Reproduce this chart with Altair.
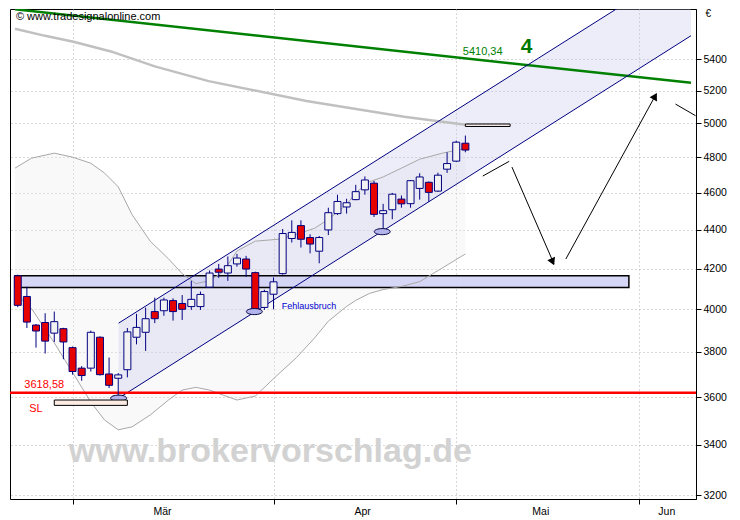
import altair as alt
import pandas as pd

# ---------------- data ----------------
# trading-day index: 0 = first trading day of March
day = list(range(-6, 44))
open_ = [4164, 4062, 3925, 3937, 3887, 3908, 3820, 3727, 3727, 3868,
         3701, 3682, 3720, 3868, 3891, 3989, 3993, 4042, 4028, 4013,
         4013, 4108, 4198, 4178, 4224, 4249, 4180, 4009, 4073, 4175,
         4355, 4423, 4360, 4289, 4400, 4487, 4523, 4563, 4617, 4654,
         4487, 4508, 4566, 4541, 4625, 4659, 4610, 4733, 4779, 4883]
high = [4170, 4110, 3930, 3981, 3989, 3912, 3825, 3736, 3899, 3872,
        3775, 3705, 3911, 3978, 4008, 4056, 4056, 4053, 4069, 4139,
        4086, 4191, 4224, 4262, 4275, 4265, 4185, 4095, 4156, 4405,
        4451, 4451, 4377, 4368, 4519, 4590, 4568, 4645, 4692, 4667,
        4540, 4600, 4586, 4672, 4710, 4664, 4713, 4830, 4898, 4928]
low = [4010, 3911, 3820, 3793, 3846, 3767, 3698, 3671, 3712, 3694,
       3639, 3595, 3686, 3835, 3805, 3934, 3969, 3946, 3949, 3997,
       3997, 4105, 4154, 4139, 4210, 4159, 3989, 3997, 4000, 4170,
       4334, 4308, 4278, 4227, 4373, 4480, 4487, 4560, 4590, 4469,
       4391, 4457, 4519, 4519, 4563, 4551, 4605, 4712, 4775, 4830]
close = [4019, 3939, 3897, 3850, 3941, 3846, 3712, 3694, 3891, 3698,
         3651, 3697, 3893, 3914, 3955, 3955, 4045, 3989, 4000, 4048,
         4072, 4178, 4182, 4215, 4254, 4198, 3993, 4086, 4134, 4381,
         4387, 4351, 4326, 4360, 4492, 4553, 4546, 4607, 4672, 4483,
         4503, 4593, 4540, 4668, 4689, 4603, 4699, 4765, 4889, 4843]

# long moving average (thick grey)
ma_day = [-6.3, -3.0, 0.1, 4.2, 9.0, 14.9, 25.6, 36.3, 43.0]
ma_val = [5602, 5555, 5516, 5452, 5355, 5261, 5137, 5041, 4993]

# bands
bb_day = [-6.3, -4.5, -2, 0, 2, 3.5, 5, 6.5, 8.5, 10.5, 12, 13.5, 15, 16.5,
          18, 20, 22.5, 24.5, 26.5, 28, 30, 31, 32.5, 34, 36, 38, 40.5, 43]
bb_up = [4739, 4796, 4825, 4802, 4767, 4711, 4634, 4483, 4341, 4250, 4175,
         4125, 4140, 4185, 4290, 4341, 4351, 4377, 4409, 4456, 4536, 4601,
         4662, 4689, 4739, 4790, 4825, 4853]
bb_low = [4077, 4004, 3842, 3708, 3578, 3502, 3461, 3473, 3523, 3587, 3630,
          3642, 3630, 3608, 3587, 3604, 3699, 3774, 3865, 3943, 4014, 4043,
          4077, 4096, 4111, 4135, 4204, 4275]

# trend channel
ch_day = [5.04, 67.7]
ch_low = [3595, 5556]
ch_up = [3934, 6071]

# green long-term trend line
tr_day = [-6.3, 67.7]
tr_val = [5735, 5250]

# support zone
zone_day = [-6.3, 60.9]
zone_val = [4106, 4164]

stop_level = 3618.58

# small boxes
box_x1 = [-2.0, 43.0]
box_x2 = [6.0, 47.9]
box_y1 = [3564, 4982]
box_y2 = [3587, 4997]
box_fill = ["#fcece4", "#f6ecec"]

# ellipses at the lows
ell_day = [5.04, 19.9, 33.9]
ell_val = [3595, 3989, 4391]

# hand drawn lines / arrows
seg_x1 = [44.9, 48.1, 54.0, 66.0]
seg_y1 = [4694, 4745, 4249, 5118]
seg_x2 = [47.8, 52.7, 63.9, 68.2]
seg_y2 = [4778, 4224, 5181, 5047]
head_day = [52.5, 63.7]
head_val = [4240, 5160]
head_angle = [156, 29]

# axis
x_domain = [-6.3, 67.7]
y_domain = [3185, 5737]
y_ticks = [3200, 3400, 3600, 3800, 4000, 4200, 4400, 4600, 4800, 5000, 5200, 5400]
month_bounds = [0, 22, 42, 62]
month_pos = [9.8, 31.7, 51.2, 65.0]
month_names = ["Mär", "Apr", "Mai", "Jun"]

FONT = "Liberation Sans"

# ---------------- tables ----------------
candles = pd.DataFrame({"d": day, "o": open_, "h": high, "l": low, "c": close})
candles["dir"] = ["up" if c >= o else "down" for o, c in zip(open_, close)]
ma = pd.DataFrame({"d": ma_day, "v": ma_val})
bb = pd.DataFrame({"d": bb_day, "u": bb_up, "l": bb_low})
ch = pd.DataFrame({"d": ch_day, "l": ch_low, "u": ch_up})
tr = pd.DataFrame({"d": tr_day, "v": tr_val})
zone = pd.DataFrame({"d1": [zone_day[0]], "d2": [zone_day[1]],
                     "v1": [zone_val[0]], "v2": [zone_val[1]]})
stop = pd.DataFrame({"v": [stop_level]})
boxes = pd.DataFrame({"x1": box_x1, "x2": box_x2, "y1": box_y1, "y2": box_y2, "f": box_fill})
ells = pd.DataFrame({"d": ell_day, "v": ell_val})
segs = pd.DataFrame({"x1": seg_x1, "y1": seg_y1, "x2": seg_x2, "y2": seg_y2})
heads = pd.DataFrame({"d": head_day, "v": head_val, "a": head_angle})

xs = alt.Scale(domain=x_domain, nice=False, zero=False)
ys = alt.Scale(type="log", domain=y_domain, nice=False)

label_expr = " : ".join(f"datum.value == {p} ? '{n}'" for p, n in zip(month_pos, month_names)) + " : ''"
bound_test = " || ".join(f"datum.value == {b}" for b in month_bounds)

x_axis = alt.Axis(
    values=sorted(month_bounds + month_pos), labelExpr=label_expr,
    tickColor={"condition": {"test": bound_test, "value": "black"}, "value": "transparent"},
    gridColor={"condition": {"test": bound_test, "value": "#b0b0b0"}, "value": "transparent"},
    gridDash=[1, 3], grid=True, tickSize=5, labelPadding=2, labelOverlap=False,
    labelFlush=False, domain=False, title=None, labelFont=FONT, labelFontSize=10.5,
    labelColor="black")
y_axis = alt.Axis(
    orient="right", values=y_ticks, format="d", tickSize=5, tickColor="black",
    labelPadding=2, labelOverlap=False, labelFlush=False, grid=True, gridDash=[1, 3],
    gridColor="#b0b0b0", domainColor="black", title="€", titleAngle=0, titleX=9,
    titleY=4, titleAlign="left", titleBaseline="middle", titleFontWeight="normal",
    titleFontSize=10, titleFont=FONT, labelFont=FONT, labelFontSize=10.5, labelColor="black")


def X(f):
    return alt.X(f, type="quantitative", scale=xs, axis=x_axis, title=None)


def Y(f):
    return alt.Y(f, type="quantitative", scale=ys, axis=y_axis, title="€")


bb_fill = alt.Chart(bb).mark_area(color="#ececec", opacity=0.3, clip=True).encode(
    x=X("d"), y=Y("l"), y2="u")
channel = alt.Chart(ch).mark_area(color="#c4c4f0", opacity=0.3, clip=True).encode(
    x=X("d"), y=Y("l"), y2="u")
zone_rect = alt.Chart(zone).mark_rect(fill="#d2d2f5", fillOpacity=0.92, stroke="black",
                                      strokeWidth=1.5, clip=True).encode(
    x=X("d1"), x2="d2", y=Y("v1"), y2="v2")
bb_up_line = alt.Chart(bb).mark_line(color="#a8a8a8", strokeWidth=1, clip=True).encode(
    x=X("d"), y=Y("u"))
bb_low_line = alt.Chart(bb).mark_line(color="#a8a8a8", strokeWidth=1, clip=True).encode(
    x=X("d"), y=Y("l"))
ma_line = alt.Chart(ma).mark_line(color="#c0c0c0", strokeWidth=2.5, clip=True).encode(
    x=X("d"), y=Y("v"))
trend = alt.Chart(tr).mark_line(color="#008000", strokeWidth=2.5, clip=True).encode(
    x=X("d"), y=Y("v"))
ch_low_line = alt.Chart(ch).mark_line(color="#000080", strokeWidth=1, clip=True).encode(
    x=X("d"), y=Y("l"))
ch_up_line = alt.Chart(ch).mark_line(color="#000080", strokeWidth=1, clip=True).encode(
    x=X("d"), y=Y("u"))
stop_line = alt.Chart(stop).mark_rule(color="#ff0000", strokeWidth=2.5).encode(y=Y("v"))

wicks = alt.Chart(candles).mark_rule(color="#000080", strokeWidth=1, clip=True).encode(
    x=X("d"), y=Y("l"), y2="h")
bodies = alt.Chart(candles).mark_bar(size=7, stroke="#000080", strokeWidth=1,
                                     orient="vertical", clip=True).encode(
    x=X("d"), y=Y("o"), y2="c",
    fill=alt.Fill("dir:N", scale=alt.Scale(domain=["up", "down"], range=["#f2f2f2", "#e60000"]),
                  legend=None))

ell_path = "M -1 0 A 1 0.38 0 1 1 1 0 A 1 0.38 0 1 1 -1 0 Z"
ellipses = alt.Chart(ells).mark_point(shape=ell_path, size=256, filled=True, fill="#b4b4ec",
                                      stroke="#000040", strokeWidth=1, opacity=1).encode(
    x=X("d"), y=Y("v"))

box_marks = alt.Chart(boxes).mark_rect(stroke="black", strokeWidth=1).encode(
    x=X("x1"), x2="x2", y=Y("y1"), y2="y2", fill=alt.Fill("f:N", scale=None))

seg_marks = alt.Chart(segs).mark_rule(color="black", strokeWidth=1, clip=True).encode(
    x=X("x1"), x2="x2", y=Y("y1"), y2="y2")
head_marks = alt.Chart(heads).mark_point(shape="triangle", size=70, filled=True, color="black",
                                         opacity=1).encode(
    x=X("d"), y=Y("v"), angle=alt.Angle("a:Q", scale=None))


def txt(text, d, v, color, size, weight="normal", align="center"):
    return alt.Chart(pd.DataFrame({"d": [d], "v": [v], "t": [text]})).mark_text(
        font=FONT, fontSize=size, fontWeight=weight, color=color, align=align,
        baseline="middle").encode(x=X("d"), y=Y("v"), text="t:N")


texts = [
    txt("© www.tradesignalonline.com", -6.2, 5680, "black", 11, align="left"),
    txt("5410,34", 44.9, 5445, "#008000", 11),
    txt("4", 49.7, 5484, "#007800", 21, weight="bold"),
    txt("Fehlausbruch", 22.9, 4017, "#0000d0", 9, align="left"),
    txt("3618,58", -3.1, 3651, "#ff0000", 11),
    txt("SL", -4.0, 3547, "#ff0000", 11),
    txt("www.brokervorschlag.de", 21.65, 3368, "#d2d2d2", 34, weight="bold"),
]

chart = alt.layer(
    bb_fill, channel, zone_rect, bb_up_line, bb_low_line, ma_line, trend,
    ch_low_line, ch_up_line, texts[6], stop_line, wicks, bodies, ellipses,
    box_marks, seg_marks, head_marks, *texts[:6]
).properties(
    width=686, height=490,
    padding={"left": 0, "top": 0, "right": 2, "bottom": 2},
    background="white",
).configure_view(stroke="black", strokeWidth=1)

chart.save("out.html", embed_options={"renderer": "svg", "actions": False})
